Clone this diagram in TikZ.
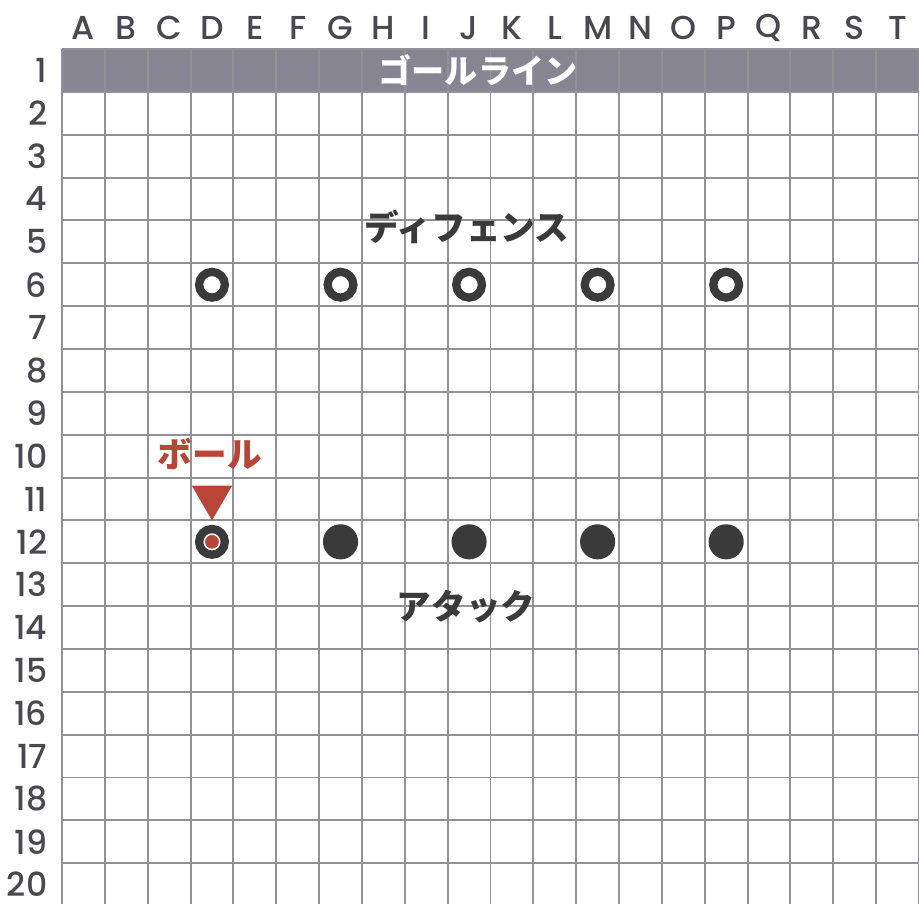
\documentclass[tikz,border=0pt]{standalone}
\usepackage{fontspec}
\usepackage{tikz}
\setmainfont{Poppins}[UprightFont=* Medium]
\newfontfamily\jpfont{Noto Sans CJK JP}
\definecolor{cLine}{RGB}{146,146,150}
\definecolor{cGoal}{RGB}{134,133,145}
\definecolor{cLabel}{RGB}{72,72,78}
\definecolor{cPlayer}{RGB}{58,58,58}
\definecolor{cBall}{RGB}{184,69,53}

\begin{document}
\begin{tikzpicture}[x=1cm,y=-1cm,
  collab/.style={font=\fontsize{22}{24}\selectfont,text=cLabel},
  rowlab/.style={anchor=east,font=\fontsize{22}{24}\selectfont,text=cLabel},
  jptext/.style={font=\jpfont\bfseries\fontsize{23}{26}\selectfont,text=cPlayer},
  defender/.style={circle,draw=cPlayer,line width=5.5pt,fill=white,minimum size=0.6cm,inner sep=0pt},
  attacker/.style={circle,fill=cPlayer,minimum size=0.82cm,inner sep=0pt}]
\useasboundingbox (-1.447,-1.145) rectangle (20,19.93);
\fill[cGoal] (0,0) rectangle (20,1);
\draw[cLine,line width=1.3pt] (0,0) grid (20,20);
\node[jptext,text=white,font=\jpfont\bfseries\fontsize{22}{24}\selectfont] (goalline) at (9.71,0.49) {ゴールライン};
\node[collab] (colA) at (0.5,-0.5) {A};
\node[collab] (colB) at (1.5,-0.5) {B};
\node[collab] (colC) at (2.5,-0.5) {C};
\node[collab] (colD) at (3.5,-0.5) {D};
\node[collab] (colE) at (4.5,-0.5) {E};
\node[collab] (colF) at (5.5,-0.5) {F};
\node[collab] (colG) at (6.5,-0.5) {G};
\node[collab] (colH) at (7.5,-0.5) {H};
\node[collab] (colI) at (8.5,-0.5) {I};
\node[collab] (colJ) at (9.5,-0.5) {J};
\node[collab] (colK) at (10.5,-0.5) {K};
\node[collab] (colL) at (11.5,-0.5) {L};
\node[collab] (colM) at (12.5,-0.5) {M};
\node[collab] (colN) at (13.5,-0.5) {N};
\node[collab] (colO) at (14.5,-0.5) {O};
\node[collab] (colP) at (15.5,-0.5) {P};
\node[collab] (colQ) at (16.5,-0.5) {Q};
\node[collab] (colR) at (17.5,-0.5) {R};
\node[collab] (colS) at (18.5,-0.5) {S};
\node[collab] (colT) at (19.5,-0.5) {T};
\node[rowlab] (row1) at (-0.22,0.5) {1};
\node[rowlab] (row2) at (-0.22,1.5) {2};
\node[rowlab] (row3) at (-0.22,2.5) {3};
\node[rowlab] (row4) at (-0.22,3.5) {4};
\node[rowlab] (row5) at (-0.22,4.5) {5};
\node[rowlab] (row6) at (-0.22,5.5) {6};
\node[rowlab] (row7) at (-0.22,6.5) {7};
\node[rowlab] (row8) at (-0.22,7.5) {8};
\node[rowlab] (row9) at (-0.22,8.5) {9};
\node[rowlab] (row10) at (-0.22,9.5) {10};
\node[rowlab] (row11) at (-0.22,10.5) {11};
\node[rowlab] (row12) at (-0.22,11.5) {12};
\node[rowlab] (row13) at (-0.22,12.5) {13};
\node[rowlab] (row14) at (-0.22,13.5) {14};
\node[rowlab] (row15) at (-0.22,14.5) {15};
\node[rowlab] (row16) at (-0.22,15.5) {16};
\node[rowlab] (row17) at (-0.22,16.5) {17};
\node[rowlab] (row18) at (-0.22,17.5) {18};
\node[rowlab] (row19) at (-0.22,18.5) {19};
\node[rowlab] (row20) at (-0.22,19.5) {20};
% defence line
\node[jptext] (defence) at (9.45,4.16) {ディフェンス};
\node[defender] (defD) at (3.5,5.5) {};
\node[defender] (defG) at (6.5,5.5) {};
\node[defender] (defJ) at (9.5,5.5) {};
\node[defender] (defM) at (12.5,5.5) {};
\node[defender] (defP) at (15.5,5.5) {};
% attack line
\node[jptext,text=cBall] (balllabel) at (3.45,9.46) {ボール};
\fill[cBall] (3.03,10.19) -- (3.97,10.19) -- (3.5,11) -- cycle;
\node[defender] (attD) at (3.5,11.5) {};
\node[circle,fill=cBall,minimum size=0.32cm,inner sep=0pt] (ball) at (attD) {};
\node[attacker] (attG) at (6.5,11.5) {};
\node[attacker] (attJ) at (9.5,11.5) {};
\node[attacker] (attM) at (12.5,11.5) {};
\node[attacker] (attP) at (15.5,11.5) {};
\node[jptext] (attack) at (9.43,13.0) {アタック};
\end{tikzpicture}
\end{document}
